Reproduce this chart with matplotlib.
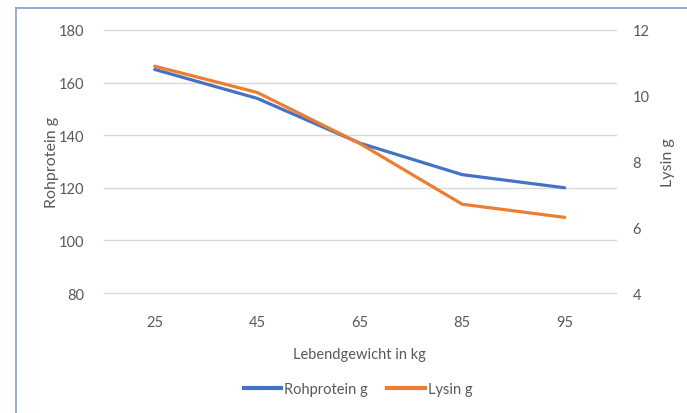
import matplotlib
matplotlib.use('Agg')
import matplotlib.pyplot as plt
from matplotlib.lines import Line2D

plt.rcParams['font.family'] = ['Lato', 'DejaVu Sans']

weights = ['25', '45', '65', '85', '95']
rohprotein = [165, 154, 137, 125, 120]
lysin = [10.9, 10.1, 8.55, 6.7, 6.3]

BLUE = '#4472C4'
ORANGE = '#ED7D31'
TXT = '#595959'
GRID = '#D9D9D9'

fig = plt.figure(figsize=(6.87, 4.14), dpi=100)
ax1 = fig.add_axes([103.5 / 687, 1 - 294 / 414, 512.5 / 687, 263 / 414])
ax2 = ax1.twinx()

x = list(range(len(weights)))
ax1.plot(x, rohprotein, color=BLUE, linewidth=2.3, solid_capstyle='round', zorder=3)
ax2.plot(x, lysin, color=ORANGE, linewidth=2.3, solid_capstyle='round', zorder=3)

ax1.set_xlim(-0.5, len(weights) - 0.5)
ax1.set_ylim(80, 180)
ax1.set_yticks(range(80, 181, 20))
ax2.set_ylim(4, 12)
ax2.set_yticks(range(4, 13, 2))
ax1.set_xticks(x)
ax1.set_xticklabels(weights)

ax1.grid(axis='y', color=GRID, linewidth=1.0)
ax1.set_axisbelow(True)
for line in ax1.get_ygridlines():
    line.set_clip_on(False)
for ax in (ax1, ax2):
    for s in ax.spines.values():
        s.set_visible(False)
    ax.tick_params(length=0, labelsize=10.5, colors=TXT)
ax1.tick_params(axis='y', pad=14)
ax1.tick_params(axis='x', pad=16)
ax2.tick_params(axis='y', pad=12)

ax1.set_ylabel('Rohprotein g', color=TXT, fontsize=11.5, labelpad=0)
ax2.set_ylabel('Lysin g', color=TXT, fontsize=11.5, labelpad=8)
ax1.set_xlabel('Lebendgewicht in kg', color=TXT, fontsize=10.5, labelpad=13)

handles = [Line2D([], [], color=BLUE, linewidth=3),
           Line2D([], [], color=ORANGE, linewidth=3)]
fig.legend(handles, ['Rohprotein g', 'Lysin g'], loc='center',
           bbox_to_anchor=(358 / 687, 1 - 390 / 414), ncol=2, frameon=False,
           fontsize=10.5, labelcolor=TXT, handlelength=2.6, handletextpad=0.2,
           columnspacing=1.3)

# chart frame, partly cut off at right and bottom
fig.add_artist(Line2D([16 / 687, 16 / 687], [0, 1 - 9 / 414], color='#7F9FD6', linewidth=1.2))
fig.add_artist(Line2D([16 / 687, 1], [1 - 9 / 414, 1 - 9 / 414], color='#7F9FD6', linewidth=1.2))

fig.savefig('out.png', dpi=100)
